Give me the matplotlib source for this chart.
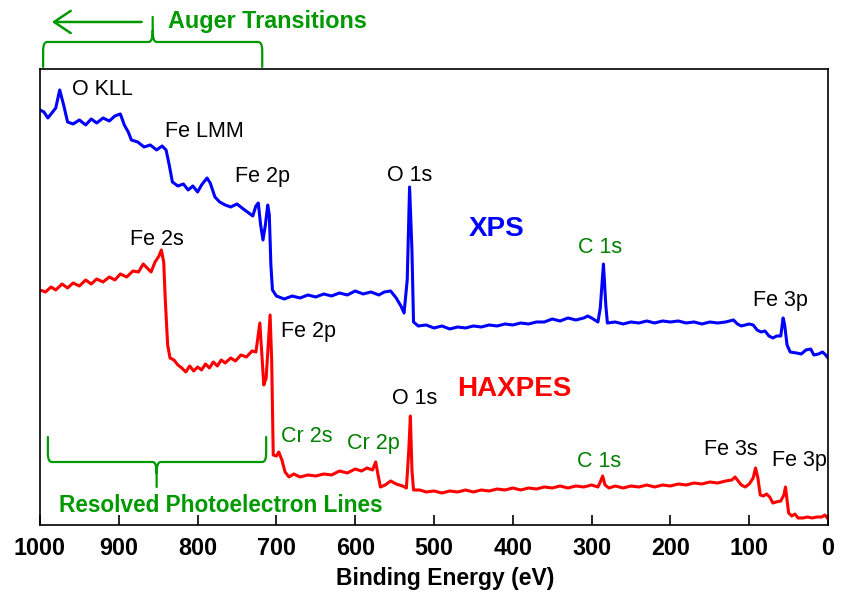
import matplotlib
matplotlib.use("Agg")
import matplotlib.pyplot as plt
from matplotlib.path import Path
from matplotlib.patches import PathPatch

plt.rcParams['font.family'] = ['Liberation Sans', 'DejaVu Sans']

# XPS survey (blue), binding energy in eV and intensity in arbitrary units
xps_be = [1000, 995, 990, 985, 980, 975, 970, 965, 958, 950, 942, 935, 928, 920, 912, 905,
          898, 893, 888, 884, 876, 868, 860, 852, 845, 840, 836, 832, 825, 818, 812, 806,
          800, 795, 788, 784, 778, 772, 765, 758, 750, 742, 735, 730, 726, 723, 720, 717,
          714, 711, 709, 707, 705, 700, 690, 680, 670, 660, 650, 640, 630, 620, 610, 600,
          590, 580, 570, 563, 555, 548, 542, 538, 534, 531, 528, 526, 520, 510, 500, 490,
          480, 470, 460, 450, 440, 430, 420, 410, 400, 390, 380, 370, 360, 350, 340, 330,
          320, 310, 305, 300, 292, 289, 285, 282, 280, 270, 260, 250, 240, 230, 220, 210,
          200, 190, 180, 170, 160, 150, 140, 130, 120, 115, 110, 100, 95, 90, 85, 80,
          75, 70, 65, 60, 57, 55, 52, 48, 40, 34, 28, 22, 18, 12, 7, 3, 0]
xps_int = [415, 413, 407, 412, 417, 435, 420, 403, 401, 405, 400, 406, 402, 407, 404, 409,
           411, 400, 393, 385, 383, 378, 380, 375, 379, 375, 360, 343, 339, 341, 335, 339,
           333, 340, 347, 342, 328, 323, 320, 318, 321, 316, 312, 309, 319, 322, 300, 285,
           300, 320, 310, 260, 235, 229, 226, 229, 227, 230, 228, 231, 229, 232, 230, 234,
           231, 233, 230, 233, 234, 227, 219, 212, 245, 338, 275, 203, 199, 200, 197, 199,
           196, 198, 197, 199, 198, 200, 199, 201, 200, 202, 201, 203, 203, 206, 204, 207,
           205, 207, 209, 207, 203, 217, 261, 220, 202, 203, 201, 203, 202, 204, 202, 204,
           203, 204, 202, 203, 201, 203, 202, 203, 205, 201, 199, 201, 200, 195, 193, 194,
           189, 187, 189, 189, 207, 200, 180, 173, 172, 171, 175, 176, 170, 171, 173, 170, 167]

# HAXPES survey (red)
hax_be = [1000, 993, 986, 980, 972, 965, 958, 950, 942, 935, 928, 920, 912, 905, 898, 890,
          882, 875, 869, 864, 859, 854, 849, 846, 843, 841, 838, 835, 830, 825, 820, 815,
          810, 805, 800, 795, 790, 785, 780, 775, 770, 765, 758, 752, 745, 738, 731, 726,
          721, 718, 716, 713, 710, 708, 706, 704, 700, 697, 693, 689, 684, 678, 670, 660,
          650, 640, 630, 620, 610, 600, 592, 585, 578, 574, 571, 568, 562, 555, 548, 540,
          535, 532, 530, 528, 526, 518, 510, 500, 490, 480, 470, 460, 450, 440, 430, 420,
          410, 400, 390, 380, 370, 360, 350, 340, 330, 320, 310, 300, 292, 289, 286, 283,
          278, 270, 260, 250, 240, 230, 220, 210, 200, 190, 180, 170, 160, 150, 140, 130,
          122, 118, 115, 110, 105, 100, 95, 92, 89, 86, 82, 78, 74, 70, 66, 60,
          56, 54, 52, 50, 46, 42, 38, 32, 26, 20, 14, 8, 4, 0]
hax_int = [235, 233, 238, 235, 241, 237, 242, 239, 245, 241, 246, 243, 248, 245, 251, 248,
           254, 253, 261, 257, 253, 263, 269, 275, 263, 225, 180, 167, 165, 160, 157, 153,
           159, 154, 158, 155, 161, 157, 163, 159, 165, 162, 167, 164, 170, 168, 174, 173,
           202, 165, 140, 147, 185, 210, 165, 70, 69, 73, 65, 53, 48, 51, 48, 50,
           49, 51, 50, 54, 52, 56, 54, 57, 55, 63, 50, 38, 40, 44, 41, 39,
           37, 75, 109, 55, 35, 35, 33, 34, 32, 34, 33, 35, 33, 35, 34, 36,
           35, 37, 35, 37, 36, 38, 37, 39, 37, 39, 38, 40, 38, 43, 49, 40,
           37, 39, 37, 39, 38, 40, 38, 40, 39, 41, 40, 42, 41, 43, 42, 44,
           45, 48, 45, 40, 38, 41, 47, 57, 47, 30, 29, 31, 28, 22, 23, 24,
           30, 38, 25, 12, 9, 11, 7, 7, 8, 7, 8, 8, 10, 6]

xticks = [1000, 900, 800, 700, 600, 500, 400, 300, 200, 100, 0]

black_labels = [("O KLL", 959, 435), ("Fe LMM", 841, 393), ("Fe 2p", 752, 348),
                ("Fe 2s", 886, 285), ("O 1s", 560, 349), ("Fe 3p", 95, 224),
                ("Fe 2p", 694, 193), ("O 1s", 553, 126), ("Fe 3s", 157, 75),
                ("Fe 3p", 71, 64)]
green_labels = [("C 1s", 317, 277), ("Cr 2s", 694, 88), ("Cr 2p", 610, 81),
                ("C 1s", 319, 63)]

green = '#009900'

fig = plt.figure(figsize=(8.49, 6.04), dpi=100)
ax = fig.add_axes([0.0471, 0.1308, 0.9282, 0.755])

ax.plot(xps_be, xps_int, color='#0000ff', lw=2.2)
ax.plot(hax_be, hax_int, color='#ff0000', lw=2.2)

ax.set_xlim(1000, 0)
ax.set_ylim(0, 456)
ax.set_yticks([])
ax.set_xticks(xticks)
ax.tick_params(axis='x', direction='in', length=7, width=1.2, labelsize=16.8, pad=9)
for lab in ax.get_xticklabels():
    lab.set_fontweight('bold')
for s in ax.spines.values():
    s.set_linewidth(1.2)
ax.set_xlabel("Binding Energy (eV)", fontsize=16.5, fontweight='bold')
ax.xaxis.set_label_coords(0.514, -0.093)

for txt, x, y in black_labels:
    ax.text(x, y, txt, fontsize=15.5, color='black', va='center', ha='left')
for txt, x, y in green_labels:
    ax.text(x, y, txt, fontsize=15.5, color='#008000', va='center', ha='left')

ax.text(456, 296, "XPS", fontsize=20, fontweight='bold', color='#0000ff', va='center', ha='left')
ax.text(471, 136, "HAXPES", fontsize=20, fontweight='bold', color='#ff0000', va='center', ha='left')
ax.text(976, 19, "Resolved Photoelectron Lines", fontsize=16.3, fontweight='bold',
        color=green, va='center', ha='left')
ax.text(838, 503, "Auger Transitions", fontsize=16.8, fontweight='bold',
        color=green, va='center', ha='left', clip_on=False)


def brace(x0, x1, xm, yend, ymid, ytip):
    # curly bracket: arms at x0 and x1, tip at xm (axis is reversed, so x0 > x1)
    r = 5
    ry = (ymid - yend) * 0.35
    ty = (ytip - ymid) * 0.45
    verts = [(x0, yend), (x0, ymid - ry), (x0, ymid), (x0 - r, ymid),
             (xm + r, ymid), (xm, ymid), (xm, ymid + ty), (xm, ytip),
             (xm, ymid + ty), (xm, ymid), (xm - r, ymid),
             (x1 + r, ymid), (x1, ymid), (x1, ymid - ry), (x1, yend)]
    codes = [Path.MOVETO, Path.LINETO, Path.CURVE3, Path.CURVE3,
             Path.LINETO, Path.CURVE3, Path.CURVE3, Path.LINETO,
             Path.MOVETO, Path.CURVE3, Path.CURVE3,
             Path.LINETO, Path.CURVE3, Path.CURVE3, Path.LINETO]
    p = PathPatch(Path(verts, codes), fill=False, edgecolor=green, lw=1.6,
                  clip_on=False, capstyle='round', joinstyle='round')
    ax.add_patch(p)


brace(996, 718, 857, 458, 483, 508)
brace(990, 713, 852, 88, 63, 38)

ax.annotate("", xy=(985, 503), xytext=(871, 503), annotation_clip=False,
            arrowprops=dict(arrowstyle='->,head_length=0.6,head_width=0.4',
                            mutation_scale=20, color=green, lw=1.8,
                            shrinkA=0, shrinkB=0))

fig.savefig("out.png", dpi=100)
